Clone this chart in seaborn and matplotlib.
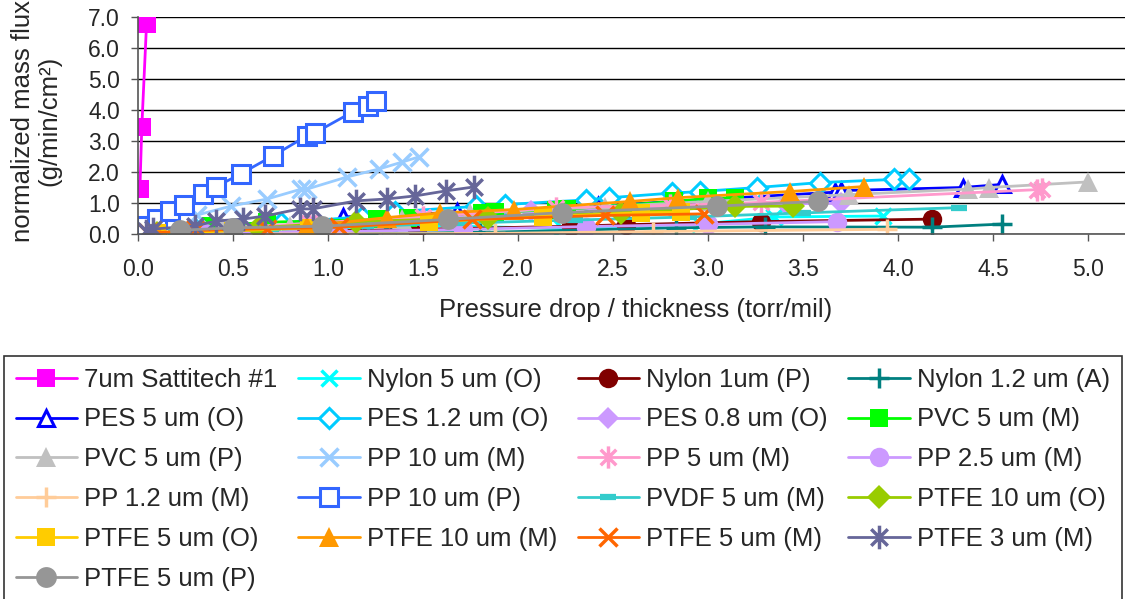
import numpy as np
import pandas as pd
import matplotlib
matplotlib.use("Agg")
import matplotlib.pyplot as plt
from matplotlib.path import Path
import seaborn as sns

# data (x: torr/mil, y: g/min/cm2)
sat7_x = [0.01, 0.02, 0.045]
sat7_y = [1.45, 3.45, 6.78]
nylon5o_x = [0.4, 0.9, 1.32, 2.23, 2.96, 3.35, 3.92]
nylon5o_y = [0.05, 0.12, 0.30, 0.18, 0.32, 0.55, 0.58]
nylon1p_x = [0.45, 0.8, 1.47, 2.28, 2.57, 3.28, 4.18]
nylon1p_y = [0.05, 0.08, 0.15, 0.25, 0.30, 0.40, 0.48]
nylon12a_x = [0.5, 1.21, 1.8, 2.83, 3.3, 4.18, 4.55]
nylon12a_y = [0.0, 0.02, 0.05, 0.20, 0.23, 0.22, 0.32]
pes5o_x = [1.08, 1.68, 2.42, 2.95, 3.67, 3.70, 4.34, 4.55]
pes5o_y = [0.55, 0.70, 0.90, 1.10, 1.35, 1.40, 1.50, 1.60]
pes12o_x = [0.3, 0.75, 1.18, 1.35, 1.78, 1.93, 2.36, 2.48, 2.81, 2.96, 3.26, 3.59, 3.98, 4.06]
pes12o_y = [0.15, 0.35, 0.56, 0.72, 0.89, 0.95, 1.10, 1.17, 1.32, 1.37, 1.50, 1.66, 1.76, 1.76]
pes08o_x = [0.3, 0.9, 1.5, 2.07, 2.8, 3.41, 3.70]
pes08o_y = [0.10, 0.30, 0.50, 0.75, 0.90, 0.97, 1.00]
pvc5m_x = [0.38, 0.68, 1.26, 1.42, 1.81, 1.88, 2.2, 2.26, 2.82, 3.0, 3.14]
pvc5m_y = [0.25, 0.38, 0.47, 0.53, 0.69, 0.70, 0.79, 0.80, 1.05, 1.15, 1.17]
pvc5p_x = [0.44, 0.8, 1.39, 1.75, 2.46, 3.0, 3.74, 4.37, 4.48, 5.0]
pvc5p_y = [0.25, 0.27, 0.47, 0.68, 0.88, 1.05, 1.27, 1.45, 1.50, 1.68]
pp10m_x = [0.31, 0.49, 0.68, 0.86, 0.89, 1.10, 1.27, 1.39, 1.48]
pp10m_y = [0.61, 0.90, 1.13, 1.45, 1.45, 1.84, 2.10, 2.32, 2.49]
pp5m_x = [0.3, 0.9, 1.5, 2.2, 2.8, 3.28, 4.73, 4.76]
pp5m_y = [0.10, 0.35, 0.55, 0.85, 0.92, 1.02, 1.43, 1.45]
pp25m_x = [0.35, 1.05, 1.71, 2.36, 3.0, 3.68]
pp25m_y = [0.03, 0.08, 0.15, 0.24, 0.31, 0.40]
pp12m_x = [0.7, 1.88, 2.71, 3.94]
pp12m_y = [0.0, 0.02, 0.08, 0.15]
pp10p_x = [0.01, 0.04, 0.10, 0.17, 0.24, 0.34, 0.41, 0.54, 0.71, 0.89, 0.93, 1.13, 1.21, 1.25]
pp10p_y = [0.19, 0.26, 0.48, 0.74, 0.94, 1.29, 1.52, 1.94, 2.52, 3.17, 3.26, 3.94, 4.14, 4.30]
pvdf5m_x = [0.2, 0.7, 1.2, 1.7, 2.3, 2.9, 3.5, 4.32]
pvdf5m_y = [0.05, 0.15, 0.25, 0.35, 0.45, 0.55, 0.68, 0.85]
ptfe10o_x = [0.1, 0.63, 1.15, 1.84, 2.54, 3.14, 3.45]
ptfe10o_y = [0.02, 0.20, 0.40, 0.53, 0.69, 0.89, 0.90]
ptfe5o_x = [0.1, 0.5, 0.9, 1.53, 2.13, 2.65, 2.86]
ptfe5o_y = [0.02, 0.10, 0.20, 0.40, 0.55, 0.69, 0.70]
ptfe10m_x = [0.1, 0.5, 0.89, 1.31, 1.59, 1.98, 2.59, 2.84, 3.43, 3.82]
ptfe10m_y = [0.05, 0.15, 0.25, 0.53, 0.68, 0.79, 1.05, 1.17, 1.37, 1.53]
ptfe5m_x = [0.05, 0.3, 0.68, 1.06, 1.76, 2.46, 2.98]
ptfe5m_y = [0.02, 0.12, 0.17, 0.22, 0.47, 0.60, 0.65]
ptfe3m_x = [0.04, 0.08, 0.30, 0.41, 0.55, 0.67, 0.85, 0.92, 1.15, 1.31, 1.46, 1.62, 1.77]
ptfe3m_y = [0.10, 0.16, 0.26, 0.42, 0.48, 0.58, 0.81, 0.81, 1.07, 1.13, 1.23, 1.39, 1.52]
ptfe5p_x = [0.22, 0.5, 0.97, 1.63, 2.23, 3.05, 3.58]
ptfe5p_y = [0.12, 0.20, 0.25, 0.47, 0.69, 0.90, 1.05]

names = ["7um Sattitech #1", "Nylon 5 um (O)", "Nylon 1um (P)", "Nylon 1.2 um (A)",
         "PES 5 um (O)", "PES 1.2 um (O)", "PES 0.8 um (O)", "PVC 5 um (M)",
         "PVC 5 um (P)", "PP 10 um (M)", "PP 5 um (M)", "PP 2.5 um (M)",
         "PP 1.2 um (M)", "PP 10 um (P)", "PVDF 5 um (M)", "PTFE 10 um (O)",
         "PTFE 5 um (O)", "PTFE 10 um (M)", "PTFE 5 um (M)", "PTFE 3 um (M)",
         "PTFE 5 um (P)"]
xs = [sat7_x, nylon5o_x, nylon1p_x, nylon12a_x, pes5o_x, pes12o_x, pes08o_x, pvc5m_x,
      pvc5p_x, pp10m_x, pp5m_x, pp25m_x, pp12m_x, pp10p_x, pvdf5m_x, ptfe10o_x,
      ptfe5o_x, ptfe10m_x, ptfe5m_x, ptfe3m_x, ptfe5p_x]
ys = [sat7_y, nylon5o_y, nylon1p_y, nylon12a_y, pes5o_y, pes12o_y, pes08o_y, pvc5m_y,
      pvc5p_y, pp10m_y, pp5m_y, pp25m_y, pp12m_y, pp10p_y, pvdf5m_y, ptfe10o_y,
      ptfe5o_y, ptfe10m_y, ptfe5m_y, ptfe3m_y, ptfe5p_y]

# excel style star: vertical bar plus an x
star = Path([(0, -1), (0, 1), (-0.7, -0.7), (0.7, 0.7), (-0.7, 0.7), (0.7, -0.7)],
            [Path.MOVETO, Path.LINETO, Path.MOVETO, Path.LINETO, Path.MOVETO, Path.LINETO])

# color, marker, filled, size
styles = [
    ("#FF00FF", "s", True, 13),
    ("#00FFFF", "x", True, 12),
    ("#800000", "o", True, 14),
    ("#008080", "+", True, 14),
    ("#0000FF", "^", False, 12),
    ("#00CCFF", "D", False, 10),
    ("#CC99FF", "D", True, 11),
    ("#00FF00", "s", True, 13),
    ("#C0C0C0", "^", True, 14),
    ("#99CCFF", "x", True, 13),
    ("#FF99CC", star, True, 16),
    ("#CC99FF", "o", True, 14),
    ("#FFCC99", "+", True, 14),
    ("#3366FF", "s", False, 13),
    ("#33CCCC", "_", True, 11),
    ("#99CC00", "D", True, 12),
    ("#FFCC00", "s", True, 13),
    ("#FF9900", "^", True, 14),
    ("#FF6600", "x", True, 13),
    ("#666699", star, True, 17),
    ("#969696", "o", True, 15),
]

sns.set_style("white")
plt.rcParams['font.family'] = ['Liberation Sans', 'DejaVu Sans']

fig = plt.figure(figsize=(11.25, 5.99), dpi=100)
ax = fig.add_axes([138 / 1125, 1 - 234 / 599, 987 / 1125, 217 / 599])

for name, x, y, (col, mk, filled, ms) in zip(names, xs, ys, styles):
    df = pd.DataFrame({"x": x, "y": y})
    kw = dict(marker=mk, markersize=ms, markeredgecolor=col, color=col, linewidth=2)
    if mk in ("x", "+", "_") or isinstance(mk, Path):
        kw["markeredgewidth"] = 2.5 if mk != "_" else 4.5
    elif filled:
        kw["markerfacecolor"] = col
        kw["markeredgewidth"] = 0
    else:
        kw["markerfacecolor"] = "white"
        kw["markeredgewidth"] = 2.2
    sns.lineplot(data=df, x="x", y="y", ax=ax, estimator=None, sort=False,
                 label=name, **kw)

ax.set_xlim(0, 987 / 190)
ax.set_ylim(0, 7)
ax.set_xticks(np.arange(0, 5.01, 0.5))
ax.set_yticks(np.arange(0, 7.01, 1))
ax.xaxis.set_major_formatter(matplotlib.ticker.FormatStrFormatter("%.1f"))
ax.yaxis.set_major_formatter(matplotlib.ticker.FormatStrFormatter("%.1f"))
ax.yaxis.grid(True, color="black", linewidth=1)
ax.set_axisbelow(True)
for s in ("top", "right"):
    ax.spines[s].set_visible(False)
for s in ("left", "bottom"):
    ax.spines[s].set_color("#555555")
    ax.spines[s].set_linewidth(1.2)
ax.tick_params(axis="x", direction="out", length=5, width=1, color="#555555",
               labelsize=16.5, pad=12, bottom=True)
ax.tick_params(axis="y", direction="out", length=5, width=1, color="#555555",
               labelsize=16.5, pad=8, left=True)
ax.set_xlabel("")
ax.set_ylabel("")

fig.text(36 / 1125, 1 - 121 / 599, "normalized mass flux\n(g/min/cm²)", rotation=90,
         ha="center", va="center", fontsize=18.5, linespacing=1.1)
fig.text(636 / 1125, 1 - 310 / 599, "Pressure drop / thickness (torr/mil)",
         ha="center", va="center", fontsize=18.5)

handles, labels = ax.get_legend_handles_labels()
ax.get_legend().remove()
# legend reads row by row in the reference; matplotlib fills columns
cols = [[], [], [], []]
for i, h in enumerate(handles):
    cols[i % 4].append((h, labels[i]))
order = [item for c in cols for item in c]
leg = fig.legend([o[0] for o in order], [o[1] for o in order], ncol=4,
                 loc="upper left", bbox_to_anchor=(4 / 1125, 0, 1118 / 1125, 1 - 356 / 599),
                 mode="expand", fontsize=18.5, frameon=True, fancybox=False,
                 edgecolor="black", handlelength=2.4, handletextpad=0.28,
                 labelspacing=0.62, borderpad=0.45, borderaxespad=0, columnspacing=0.5)
leg.get_frame().set_linewidth(1.2)

fig.savefig("out.png", dpi=100)
